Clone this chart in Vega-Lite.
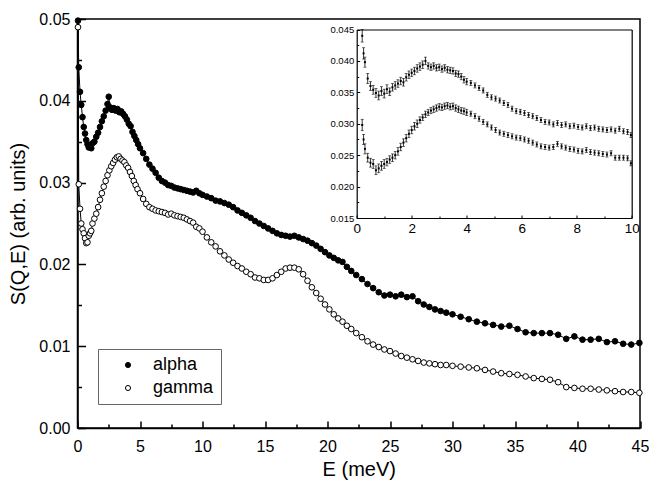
{
"$schema": "https://vega.github.io/schema/vega-lite/v6.json",
"width": 562.5,
"height": 409,
"autosize": {"type": "none"},
"padding": {"left": 77.5, "top": 19, "right": 9, "bottom": 57},
"background": "white",
"config": {
  "view": {"stroke": "black", "strokeWidth": 1.5},
  "axis": {"grid": false, "labelFlush": false, "labelOverlap": false, "domainColor": "black", "tickColor": "black", "labelColor": "black", "titleColor": "black", "labelFont": "Liberation Sans", "titleFont": "Liberation Sans", "titleFontWeight": "normal"},
  "legend": {"labelFont": "Liberation Sans"}
},
"datasets": {
  "main": [
    {"s":"alpha","E":0.04,"S":0.0498},{"s":"alpha","E":0.1,"S":0.0441},{"s":"alpha","E":0.2,"S":0.0411},{"s":"alpha","E":0.3,"S":0.0395},{"s":"alpha","E":0.4,"S":0.038},{"s":"alpha","E":0.5,"S":0.0368},{"s":"alpha","E":0.6,"S":0.036},{"s":"alpha","E":0.7,"S":0.0352},{"s":"alpha","E":0.8,"S":0.0347},{"s":"alpha","E":0.9,"S":0.0343},{"s":"alpha","E":1.0,"S":0.0345},{"s":"alpha","E":1.1,"S":0.0342},{"s":"alpha","E":1.2,"S":0.0348},{"s":"alpha","E":1.35,"S":0.035},{"s":"alpha","E":1.5,"S":0.0356},{"s":"alpha","E":1.65,"S":0.0361},{"s":"alpha","E":1.8,"S":0.0368},{"s":"alpha","E":1.95,"S":0.0375},{"s":"alpha","E":2.1,"S":0.0381},{"s":"alpha","E":2.25,"S":0.0388},{"s":"alpha","E":2.4,"S":0.0396},{"s":"alpha","E":2.5,"S":0.0405},{"s":"alpha","E":2.6,"S":0.0392},{"s":"alpha","E":2.75,"S":0.0389},{"s":"alpha","E":2.9,"S":0.0391},{"s":"alpha","E":3.05,"S":0.0388},{"s":"alpha","E":3.2,"S":0.039},{"s":"alpha","E":3.35,"S":0.0386},{"s":"alpha","E":3.5,"S":0.0387},{"s":"alpha","E":3.65,"S":0.0384},{"s":"alpha","E":3.8,"S":0.0381},{"s":"alpha","E":3.95,"S":0.0377},{"s":"alpha","E":4.1,"S":0.0372},{"s":"alpha","E":4.25,"S":0.0369},{"s":"alpha","E":4.4,"S":0.0362},{"s":"alpha","E":4.55,"S":0.0357},{"s":"alpha","E":4.7,"S":0.0352},{"s":"alpha","E":4.85,"S":0.0347},{"s":"alpha","E":5.0,"S":0.0342},{"s":"alpha","E":5.25,"S":0.0336},{"s":"alpha","E":5.5,"S":0.0329},{"s":"alpha","E":5.75,"S":0.0322},{"s":"alpha","E":6.0,"S":0.0317},{"s":"alpha","E":6.25,"S":0.0312},{"s":"alpha","E":6.5,"S":0.0306},{"s":"alpha","E":6.75,"S":0.0302},{"s":"alpha","E":7.0,"S":0.03},{"s":"alpha","E":7.25,"S":0.0297},{"s":"alpha","E":7.5,"S":0.0296},{"s":"alpha","E":7.75,"S":0.0294},{"s":"alpha","E":8.0,"S":0.0293},{"s":"alpha","E":8.25,"S":0.0292},{"s":"alpha","E":8.5,"S":0.0291},{"s":"alpha","E":8.75,"S":0.029},{"s":"alpha","E":9.0,"S":0.0289},{"s":"alpha","E":9.25,"S":0.0288},{"s":"alpha","E":9.5,"S":0.029},{"s":"alpha","E":9.75,"S":0.0287},{"s":"alpha","E":10.0,"S":0.0285},{"s":"alpha","E":10.35,"S":0.0283},{"s":"alpha","E":10.7,"S":0.0281},{"s":"alpha","E":11.05,"S":0.0278},{"s":"alpha","E":11.4,"S":0.0277},{"s":"alpha","E":11.75,"S":0.0275},{"s":"alpha","E":12.1,"S":0.0273},{"s":"alpha","E":12.45,"S":0.027},{"s":"alpha","E":12.8,"S":0.0266},{"s":"alpha","E":13.15,"S":0.0263},{"s":"alpha","E":13.5,"S":0.026},{"s":"alpha","E":13.85,"S":0.0257},{"s":"alpha","E":14.2,"S":0.0253},{"s":"alpha","E":14.55,"S":0.025},{"s":"alpha","E":14.9,"S":0.0247},{"s":"alpha","E":15.25,"S":0.0244},{"s":"alpha","E":15.6,"S":0.0241},{"s":"alpha","E":15.95,"S":0.0238},{"s":"alpha","E":16.3,"S":0.0236},{"s":"alpha","E":16.65,"S":0.0235},{"s":"alpha","E":17.0,"S":0.0234},{"s":"alpha","E":17.35,"S":0.0235},{"s":"alpha","E":17.7,"S":0.0233},{"s":"alpha","E":18.05,"S":0.0231},{"s":"alpha","E":18.4,"S":0.0229},{"s":"alpha","E":18.75,"S":0.0226},{"s":"alpha","E":19.1,"S":0.0223},{"s":"alpha","E":19.45,"S":0.0219},{"s":"alpha","E":19.8,"S":0.0215},{"s":"alpha","E":20.15,"S":0.0211},{"s":"alpha","E":20.5,"S":0.0208},{"s":"alpha","E":20.85,"S":0.0205},{"s":"alpha","E":21.2,"S":0.0203},{"s":"alpha","E":21.55,"S":0.0197},{"s":"alpha","E":21.9,"S":0.0192},{"s":"alpha","E":22.3,"S":0.0187},{"s":"alpha","E":22.75,"S":0.0182},{"s":"alpha","E":23.2,"S":0.0176},{"s":"alpha","E":23.65,"S":0.0171},{"s":"alpha","E":24.1,"S":0.0166},{"s":"alpha","E":24.55,"S":0.0162},{"s":"alpha","E":25.0,"S":0.0163},{"s":"alpha","E":25.45,"S":0.0161},{"s":"alpha","E":25.9,"S":0.0163},{"s":"alpha","E":26.35,"S":0.016},{"s":"alpha","E":26.8,"S":0.0161},{"s":"alpha","E":27.25,"S":0.0155},{"s":"alpha","E":27.7,"S":0.0151},{"s":"alpha","E":28.15,"S":0.0148},{"s":"alpha","E":28.6,"S":0.0145},{"s":"alpha","E":29.05,"S":0.0143},{"s":"alpha","E":29.5,"S":0.0141},{"s":"alpha","E":30.0,"S":0.0139},{"s":"alpha","E":30.65,"S":0.0136},{"s":"alpha","E":31.3,"S":0.0133},{"s":"alpha","E":31.95,"S":0.013},{"s":"alpha","E":32.6,"S":0.0128},{"s":"alpha","E":33.25,"S":0.0126},{"s":"alpha","E":33.9,"S":0.0124},{"s":"alpha","E":34.55,"S":0.0125},{"s":"alpha","E":35.2,"S":0.0121},{"s":"alpha","E":35.85,"S":0.0117},{"s":"alpha","E":36.5,"S":0.0116},{"s":"alpha","E":37.15,"S":0.0116},{"s":"alpha","E":37.8,"S":0.0116},{"s":"alpha","E":38.45,"S":0.0114},{"s":"alpha","E":39.1,"S":0.0109},{"s":"alpha","E":39.75,"S":0.0112},{"s":"alpha","E":40.4,"S":0.0108},{"s":"alpha","E":41.05,"S":0.0108},{"s":"alpha","E":41.7,"S":0.0109},{"s":"alpha","E":42.35,"S":0.0105},{"s":"alpha","E":43.0,"S":0.0106},{"s":"alpha","E":43.65,"S":0.0103},{"s":"alpha","E":44.3,"S":0.0102},{"s":"alpha","E":44.95,"S":0.0104},
    {"s":"gamma","E":0.04,"S":0.049},{"s":"gamma","E":0.1,"S":0.0298},{"s":"gamma","E":0.2,"S":0.0268},{"s":"gamma","E":0.3,"S":0.025},{"s":"gamma","E":0.4,"S":0.0243},{"s":"gamma","E":0.5,"S":0.0238},{"s":"gamma","E":0.6,"S":0.0232},{"s":"gamma","E":0.7,"S":0.0226},{"s":"gamma","E":0.8,"S":0.0227},{"s":"gamma","E":0.9,"S":0.0235},{"s":"gamma","E":1.0,"S":0.0238},{"s":"gamma","E":1.1,"S":0.0241},{"s":"gamma","E":1.2,"S":0.025},{"s":"gamma","E":1.35,"S":0.0256},{"s":"gamma","E":1.5,"S":0.0262},{"s":"gamma","E":1.65,"S":0.027},{"s":"gamma","E":1.8,"S":0.0279},{"s":"gamma","E":1.95,"S":0.0287},{"s":"gamma","E":2.1,"S":0.0295},{"s":"gamma","E":2.25,"S":0.0302},{"s":"gamma","E":2.4,"S":0.0309},{"s":"gamma","E":2.55,"S":0.0315},{"s":"gamma","E":2.7,"S":0.032},{"s":"gamma","E":2.85,"S":0.0324},{"s":"gamma","E":3.0,"S":0.0328},{"s":"gamma","E":3.15,"S":0.0331},{"s":"gamma","E":3.3,"S":0.0332},{"s":"gamma","E":3.45,"S":0.0329},{"s":"gamma","E":3.6,"S":0.0327},{"s":"gamma","E":3.75,"S":0.0325},{"s":"gamma","E":3.9,"S":0.0321},{"s":"gamma","E":4.05,"S":0.0318},{"s":"gamma","E":4.2,"S":0.0313},{"s":"gamma","E":4.35,"S":0.0308},{"s":"gamma","E":4.5,"S":0.0302},{"s":"gamma","E":4.65,"S":0.0297},{"s":"gamma","E":4.8,"S":0.0292},{"s":"gamma","E":5.0,"S":0.0287},{"s":"gamma","E":5.25,"S":0.028},{"s":"gamma","E":5.5,"S":0.0274},{"s":"gamma","E":5.75,"S":0.027},{"s":"gamma","E":6.0,"S":0.0268},{"s":"gamma","E":6.25,"S":0.0266},{"s":"gamma","E":6.5,"S":0.0265},{"s":"gamma","E":6.75,"S":0.0264},{"s":"gamma","E":7.0,"S":0.0263},{"s":"gamma","E":7.25,"S":0.0261},{"s":"gamma","E":7.5,"S":0.0262},{"s":"gamma","E":7.75,"S":0.026},{"s":"gamma","E":8.0,"S":0.0259},{"s":"gamma","E":8.25,"S":0.0258},{"s":"gamma","E":8.5,"S":0.0257},{"s":"gamma","E":8.75,"S":0.0255},{"s":"gamma","E":9.0,"S":0.0253},{"s":"gamma","E":9.25,"S":0.0251},{"s":"gamma","E":9.5,"S":0.0246},{"s":"gamma","E":9.75,"S":0.0244},{"s":"gamma","E":10.0,"S":0.024},{"s":"gamma","E":10.35,"S":0.0233},{"s":"gamma","E":10.7,"S":0.0227},{"s":"gamma","E":11.05,"S":0.0222},{"s":"gamma","E":11.4,"S":0.0216},{"s":"gamma","E":11.75,"S":0.0211},{"s":"gamma","E":12.1,"S":0.0206},{"s":"gamma","E":12.45,"S":0.0202},{"s":"gamma","E":12.8,"S":0.0198},{"s":"gamma","E":13.15,"S":0.0195},{"s":"gamma","E":13.5,"S":0.0191},{"s":"gamma","E":13.85,"S":0.0188},{"s":"gamma","E":14.2,"S":0.0184},{"s":"gamma","E":14.55,"S":0.0183},{"s":"gamma","E":14.9,"S":0.0181},{"s":"gamma","E":15.25,"S":0.0181},{"s":"gamma","E":15.6,"S":0.0183},{"s":"gamma","E":15.95,"S":0.0187},{"s":"gamma","E":16.3,"S":0.0191},{"s":"gamma","E":16.65,"S":0.0195},{"s":"gamma","E":17.0,"S":0.0196},{"s":"gamma","E":17.35,"S":0.0196},{"s":"gamma","E":17.7,"S":0.0194},{"s":"gamma","E":18.05,"S":0.0188},{"s":"gamma","E":18.4,"S":0.018},{"s":"gamma","E":18.75,"S":0.0172},{"s":"gamma","E":19.1,"S":0.0165},{"s":"gamma","E":19.45,"S":0.0158},{"s":"gamma","E":19.8,"S":0.0151},{"s":"gamma","E":20.15,"S":0.0145},{"s":"gamma","E":20.5,"S":0.0139},{"s":"gamma","E":20.85,"S":0.0134},{"s":"gamma","E":21.2,"S":0.013},{"s":"gamma","E":21.55,"S":0.0125},{"s":"gamma","E":21.9,"S":0.0121},{"s":"gamma","E":22.3,"S":0.0116},{"s":"gamma","E":22.75,"S":0.0111},{"s":"gamma","E":23.2,"S":0.0106},{"s":"gamma","E":23.65,"S":0.0102},{"s":"gamma","E":24.1,"S":0.0099},{"s":"gamma","E":24.55,"S":0.0096},{"s":"gamma","E":25.0,"S":0.0094},{"s":"gamma","E":25.45,"S":0.0091},{"s":"gamma","E":25.9,"S":0.0088},{"s":"gamma","E":26.35,"S":0.0086},{"s":"gamma","E":26.8,"S":0.0084},{"s":"gamma","E":27.25,"S":0.0082},{"s":"gamma","E":27.7,"S":0.008},{"s":"gamma","E":28.15,"S":0.0079},{"s":"gamma","E":28.6,"S":0.0078},{"s":"gamma","E":29.05,"S":0.0077},{"s":"gamma","E":29.5,"S":0.0077},{"s":"gamma","E":30.0,"S":0.0076},{"s":"gamma","E":30.65,"S":0.0075},{"s":"gamma","E":31.3,"S":0.0074},{"s":"gamma","E":31.95,"S":0.0073},{"s":"gamma","E":32.6,"S":0.0071},{"s":"gamma","E":33.25,"S":0.0069},{"s":"gamma","E":33.9,"S":0.0067},{"s":"gamma","E":34.55,"S":0.0066},{"s":"gamma","E":35.2,"S":0.0065},{"s":"gamma","E":35.85,"S":0.0063},{"s":"gamma","E":36.5,"S":0.0061},{"s":"gamma","E":37.15,"S":0.006},{"s":"gamma","E":37.8,"S":0.0059},{"s":"gamma","E":38.45,"S":0.0056},{"s":"gamma","E":39.1,"S":0.005},{"s":"gamma","E":39.75,"S":0.0049},{"s":"gamma","E":40.4,"S":0.0048},{"s":"gamma","E":41.05,"S":0.0048},{"s":"gamma","E":41.7,"S":0.0047},{"s":"gamma","E":42.35,"S":0.0046},{"s":"gamma","E":43.0,"S":0.0045},{"s":"gamma","E":43.65,"S":0.0044},{"s":"gamma","E":44.3,"S":0.0044},{"s":"gamma","E":44.95,"S":0.0043}
  ],
  "inset": [
    {"s":"alpha","E":0.2,"S":0.044,"lo":0.043,"hi":0.045},{"s":"alpha","E":0.25,"S":0.0412,"lo":0.0403,"hi":0.0421},{"s":"alpha","E":0.3,"S":0.0398,"lo":0.039,"hi":0.0406},{"s":"alpha","E":0.4,"S":0.0372,"lo":0.0364,"hi":0.038},{"s":"alpha","E":0.5,"S":0.036,"lo":0.0353,"hi":0.0367},{"s":"alpha","E":0.6,"S":0.0354,"lo":0.0347,"hi":0.0361},{"s":"alpha","E":0.7,"S":0.0349,"lo":0.0342,"hi":0.0356},{"s":"alpha","E":0.8,"S":0.0345,"lo":0.0338,"hi":0.0352},{"s":"alpha","E":0.9,"S":0.0352,"lo":0.0345,"hi":0.0359},{"s":"alpha","E":1.0,"S":0.0348,"lo":0.0341,"hi":0.0355},{"s":"alpha","E":1.1,"S":0.0355,"lo":0.0348,"hi":0.0362},{"s":"alpha","E":1.2,"S":0.0351,"lo":0.0345,"hi":0.0357},{"s":"alpha","E":1.3,"S":0.0358,"lo":0.0352,"hi":0.0364},{"s":"alpha","E":1.4,"S":0.0361,"lo":0.0355,"hi":0.0367},{"s":"alpha","E":1.5,"S":0.0364,"lo":0.0358,"hi":0.037},{"s":"alpha","E":1.6,"S":0.0368,"lo":0.0362,"hi":0.0374},{"s":"alpha","E":1.7,"S":0.0366,"lo":0.036,"hi":0.0372},{"s":"alpha","E":1.8,"S":0.0374,"lo":0.0368,"hi":0.038},{"s":"alpha","E":1.9,"S":0.0378,"lo":0.0372,"hi":0.0384},{"s":"alpha","E":2.0,"S":0.0381,"lo":0.0375,"hi":0.0387},{"s":"alpha","E":2.1,"S":0.0384,"lo":0.0378,"hi":0.039},{"s":"alpha","E":2.2,"S":0.0388,"lo":0.0382,"hi":0.0394},{"s":"alpha","E":2.3,"S":0.0391,"lo":0.0385,"hi":0.0397},{"s":"alpha","E":2.4,"S":0.0394,"lo":0.0388,"hi":0.04},{"s":"alpha","E":2.5,"S":0.04,"lo":0.0394,"hi":0.0406},{"s":"alpha","E":2.6,"S":0.0392,"lo":0.0387,"hi":0.0397},{"s":"alpha","E":2.7,"S":0.039,"lo":0.0385,"hi":0.0395},{"s":"alpha","E":2.8,"S":0.0392,"lo":0.0387,"hi":0.0397},{"s":"alpha","E":2.9,"S":0.0389,"lo":0.0384,"hi":0.0394},{"s":"alpha","E":3.0,"S":0.039,"lo":0.0385,"hi":0.0395},{"s":"alpha","E":3.1,"S":0.0387,"lo":0.0382,"hi":0.0392},{"s":"alpha","E":3.2,"S":0.0389,"lo":0.0384,"hi":0.0394},{"s":"alpha","E":3.3,"S":0.0386,"lo":0.0381,"hi":0.0391},{"s":"alpha","E":3.4,"S":0.0385,"lo":0.038,"hi":0.039},{"s":"alpha","E":3.5,"S":0.0384,"lo":0.0379,"hi":0.0389},{"s":"alpha","E":3.6,"S":0.038,"lo":0.0375,"hi":0.0385},{"s":"alpha","E":3.7,"S":0.0379,"lo":0.0374,"hi":0.0384},{"s":"alpha","E":3.8,"S":0.0375,"lo":0.037,"hi":0.038},{"s":"alpha","E":3.9,"S":0.037,"lo":0.0365,"hi":0.0375},{"s":"alpha","E":4.0,"S":0.0367,"lo":0.0362,"hi":0.0372},{"s":"alpha","E":4.15,"S":0.0365,"lo":0.0361,"hi":0.0369},{"s":"alpha","E":4.3,"S":0.0361,"lo":0.0357,"hi":0.0365},{"s":"alpha","E":4.45,"S":0.0357,"lo":0.0353,"hi":0.0361},{"s":"alpha","E":4.6,"S":0.0353,"lo":0.0349,"hi":0.0357},{"s":"alpha","E":4.75,"S":0.0346,"lo":0.0342,"hi":0.035},{"s":"alpha","E":4.9,"S":0.0342,"lo":0.0338,"hi":0.0346},{"s":"alpha","E":5.05,"S":0.034,"lo":0.0336,"hi":0.0344},{"s":"alpha","E":5.2,"S":0.0337,"lo":0.0333,"hi":0.0341},{"s":"alpha","E":5.35,"S":0.0333,"lo":0.0329,"hi":0.0337},{"s":"alpha","E":5.5,"S":0.033,"lo":0.0326,"hi":0.0334},{"s":"alpha","E":5.65,"S":0.0324,"lo":0.032,"hi":0.0328},{"s":"alpha","E":5.8,"S":0.032,"lo":0.0316,"hi":0.0324},{"s":"alpha","E":5.95,"S":0.0319,"lo":0.0315,"hi":0.0323},{"s":"alpha","E":6.1,"S":0.0317,"lo":0.0313,"hi":0.0321},{"s":"alpha","E":6.25,"S":0.0314,"lo":0.031,"hi":0.0318},{"s":"alpha","E":6.4,"S":0.0312,"lo":0.0308,"hi":0.0316},{"s":"alpha","E":6.55,"S":0.0309,"lo":0.0305,"hi":0.0313},{"s":"alpha","E":6.7,"S":0.0306,"lo":0.0302,"hi":0.031},{"s":"alpha","E":6.85,"S":0.0303,"lo":0.0299,"hi":0.0307},{"s":"alpha","E":7.0,"S":0.0302,"lo":0.0298,"hi":0.0306},{"s":"alpha","E":7.15,"S":0.0299,"lo":0.0295,"hi":0.0303},{"s":"alpha","E":7.3,"S":0.0301,"lo":0.0297,"hi":0.0305},{"s":"alpha","E":7.45,"S":0.0298,"lo":0.0294,"hi":0.0302},{"s":"alpha","E":7.6,"S":0.0299,"lo":0.0295,"hi":0.0303},{"s":"alpha","E":7.75,"S":0.0296,"lo":0.0292,"hi":0.03},{"s":"alpha","E":7.9,"S":0.0297,"lo":0.0293,"hi":0.0301},{"s":"alpha","E":8.05,"S":0.0295,"lo":0.0291,"hi":0.0299},{"s":"alpha","E":8.2,"S":0.0294,"lo":0.029,"hi":0.0298},{"s":"alpha","E":8.35,"S":0.0296,"lo":0.0292,"hi":0.03},{"s":"alpha","E":8.5,"S":0.0293,"lo":0.0289,"hi":0.0297},{"s":"alpha","E":8.65,"S":0.0294,"lo":0.029,"hi":0.0298},{"s":"alpha","E":8.8,"S":0.0292,"lo":0.0288,"hi":0.0296},{"s":"alpha","E":8.95,"S":0.0291,"lo":0.0287,"hi":0.0295},{"s":"alpha","E":9.1,"S":0.029,"lo":0.0286,"hi":0.0294},{"s":"alpha","E":9.25,"S":0.0291,"lo":0.0287,"hi":0.0295},{"s":"alpha","E":9.4,"S":0.0289,"lo":0.0285,"hi":0.0293},{"s":"alpha","E":9.55,"S":0.0292,"lo":0.0288,"hi":0.0296},{"s":"alpha","E":9.7,"S":0.0288,"lo":0.0284,"hi":0.0292},{"s":"alpha","E":9.85,"S":0.0287,"lo":0.0283,"hi":0.0291},{"s":"alpha","E":9.97,"S":0.0282,"lo":0.0278,"hi":0.0286},
    {"s":"gamma","E":0.2,"S":0.0298,"lo":0.0289,"hi":0.0307},{"s":"gamma","E":0.25,"S":0.0275,"lo":0.0267,"hi":0.0283},{"s":"gamma","E":0.3,"S":0.026,"lo":0.0252,"hi":0.0268},{"s":"gamma","E":0.4,"S":0.0246,"lo":0.0239,"hi":0.0253},{"s":"gamma","E":0.5,"S":0.0238,"lo":0.0231,"hi":0.0245},{"s":"gamma","E":0.6,"S":0.0236,"lo":0.0229,"hi":0.0243},{"s":"gamma","E":0.7,"S":0.0226,"lo":0.0219,"hi":0.0233},{"s":"gamma","E":0.8,"S":0.0229,"lo":0.0222,"hi":0.0236},{"s":"gamma","E":0.9,"S":0.0233,"lo":0.0226,"hi":0.024},{"s":"gamma","E":1.0,"S":0.0236,"lo":0.0229,"hi":0.0243},{"s":"gamma","E":1.1,"S":0.0239,"lo":0.0233,"hi":0.0245},{"s":"gamma","E":1.2,"S":0.0243,"lo":0.0237,"hi":0.0249},{"s":"gamma","E":1.3,"S":0.0246,"lo":0.024,"hi":0.0252},{"s":"gamma","E":1.4,"S":0.025,"lo":0.0244,"hi":0.0256},{"s":"gamma","E":1.5,"S":0.0256,"lo":0.025,"hi":0.0262},{"s":"gamma","E":1.6,"S":0.0263,"lo":0.0257,"hi":0.0269},{"s":"gamma","E":1.7,"S":0.027,"lo":0.0264,"hi":0.0276},{"s":"gamma","E":1.8,"S":0.0277,"lo":0.0271,"hi":0.0283},{"s":"gamma","E":1.9,"S":0.0284,"lo":0.0278,"hi":0.029},{"s":"gamma","E":2.0,"S":0.029,"lo":0.0284,"hi":0.0296},{"s":"gamma","E":2.1,"S":0.0296,"lo":0.029,"hi":0.0302},{"s":"gamma","E":2.2,"S":0.03,"lo":0.0294,"hi":0.0306},{"s":"gamma","E":2.3,"S":0.0306,"lo":0.0301,"hi":0.0311},{"s":"gamma","E":2.4,"S":0.031,"lo":0.0305,"hi":0.0315},{"s":"gamma","E":2.5,"S":0.0315,"lo":0.031,"hi":0.032},{"s":"gamma","E":2.6,"S":0.0318,"lo":0.0313,"hi":0.0323},{"s":"gamma","E":2.7,"S":0.0321,"lo":0.0316,"hi":0.0326},{"s":"gamma","E":2.8,"S":0.0323,"lo":0.0318,"hi":0.0328},{"s":"gamma","E":2.9,"S":0.0325,"lo":0.032,"hi":0.033},{"s":"gamma","E":3.0,"S":0.0327,"lo":0.0322,"hi":0.0332},{"s":"gamma","E":3.1,"S":0.0326,"lo":0.0321,"hi":0.0331},{"s":"gamma","E":3.2,"S":0.0328,"lo":0.0323,"hi":0.0333},{"s":"gamma","E":3.3,"S":0.0329,"lo":0.0324,"hi":0.0334},{"s":"gamma","E":3.4,"S":0.0327,"lo":0.0322,"hi":0.0332},{"s":"gamma","E":3.5,"S":0.0328,"lo":0.0323,"hi":0.0333},{"s":"gamma","E":3.6,"S":0.0325,"lo":0.032,"hi":0.033},{"s":"gamma","E":3.7,"S":0.0323,"lo":0.0318,"hi":0.0328},{"s":"gamma","E":3.8,"S":0.0321,"lo":0.0316,"hi":0.0326},{"s":"gamma","E":3.9,"S":0.032,"lo":0.0315,"hi":0.0325},{"s":"gamma","E":4.0,"S":0.0318,"lo":0.0313,"hi":0.0323},{"s":"gamma","E":4.15,"S":0.0316,"lo":0.0312,"hi":0.032},{"s":"gamma","E":4.3,"S":0.0312,"lo":0.0308,"hi":0.0316},{"s":"gamma","E":4.45,"S":0.0308,"lo":0.0304,"hi":0.0312},{"s":"gamma","E":4.6,"S":0.0303,"lo":0.0299,"hi":0.0307},{"s":"gamma","E":4.75,"S":0.0299,"lo":0.0295,"hi":0.0303},{"s":"gamma","E":4.9,"S":0.0294,"lo":0.029,"hi":0.0298},{"s":"gamma","E":5.05,"S":0.029,"lo":0.0286,"hi":0.0294},{"s":"gamma","E":5.2,"S":0.0286,"lo":0.0282,"hi":0.029},{"s":"gamma","E":5.35,"S":0.0284,"lo":0.028,"hi":0.0288},{"s":"gamma","E":5.5,"S":0.0282,"lo":0.0278,"hi":0.0286},{"s":"gamma","E":5.65,"S":0.028,"lo":0.0276,"hi":0.0284},{"s":"gamma","E":5.8,"S":0.0278,"lo":0.0274,"hi":0.0282},{"s":"gamma","E":5.95,"S":0.0277,"lo":0.0273,"hi":0.0281},{"s":"gamma","E":6.1,"S":0.0275,"lo":0.0271,"hi":0.0279},{"s":"gamma","E":6.25,"S":0.0273,"lo":0.0269,"hi":0.0277},{"s":"gamma","E":6.4,"S":0.027,"lo":0.0266,"hi":0.0274},{"s":"gamma","E":6.55,"S":0.0267,"lo":0.0263,"hi":0.0271},{"s":"gamma","E":6.7,"S":0.0264,"lo":0.026,"hi":0.0268},{"s":"gamma","E":6.85,"S":0.0263,"lo":0.0259,"hi":0.0267},{"s":"gamma","E":7.0,"S":0.0262,"lo":0.0258,"hi":0.0266},{"s":"gamma","E":7.15,"S":0.0263,"lo":0.0259,"hi":0.0267},{"s":"gamma","E":7.3,"S":0.0268,"lo":0.0264,"hi":0.0272},{"s":"gamma","E":7.45,"S":0.0264,"lo":0.026,"hi":0.0268},{"s":"gamma","E":7.6,"S":0.0262,"lo":0.0258,"hi":0.0266},{"s":"gamma","E":7.75,"S":0.026,"lo":0.0256,"hi":0.0264},{"s":"gamma","E":7.9,"S":0.0259,"lo":0.0255,"hi":0.0263},{"s":"gamma","E":8.05,"S":0.0257,"lo":0.0253,"hi":0.0261},{"s":"gamma","E":8.2,"S":0.0256,"lo":0.0252,"hi":0.026},{"s":"gamma","E":8.35,"S":0.0258,"lo":0.0254,"hi":0.0262},{"s":"gamma","E":8.5,"S":0.0255,"lo":0.0251,"hi":0.0259},{"s":"gamma","E":8.65,"S":0.0254,"lo":0.025,"hi":0.0258},{"s":"gamma","E":8.8,"S":0.0253,"lo":0.0249,"hi":0.0257},{"s":"gamma","E":8.95,"S":0.0252,"lo":0.0248,"hi":0.0256},{"s":"gamma","E":9.1,"S":0.0251,"lo":0.0247,"hi":0.0255},{"s":"gamma","E":9.25,"S":0.0253,"lo":0.0249,"hi":0.0257},{"s":"gamma","E":9.4,"S":0.0246,"lo":0.0242,"hi":0.025},{"s":"gamma","E":9.55,"S":0.0246,"lo":0.0242,"hi":0.025},{"s":"gamma","E":9.7,"S":0.0246,"lo":0.0242,"hi":0.025},{"s":"gamma","E":9.85,"S":0.0245,"lo":0.0241,"hi":0.0249},{"s":"gamma","E":9.97,"S":0.0237,"lo":0.0233,"hi":0.0241}
  ]
},
"layer": [
  {
    "data": {"name": "main"},
    "encoding": {
      "x": {"field": "E", "type": "quantitative", "scale": {"domain": [0, 45], "nice": false},
            "axis": {"values": [0,5,10,15,20,25,30,35,40,45], "tickSize": -7, "tickWidth": 1.5, "domainWidth": 1.5, "labelFontSize": 16, "labelPadding": 17, "title": "E  (meV)", "titleFontSize": 20, "titlePadding": 5}},
      "y": {"field": "S", "type": "quantitative", "scale": {"domain": [0, 0.05], "nice": false},
            "axis": {"values": [0,0.01,0.02,0.03,0.04,0.05], "format": ".2f", "tickSize": -8, "tickWidth": 1.5, "domainWidth": 1.5, "labelFontSize": 16, "labelPadding": 15.5, "title": "S(Q,E)  (arb. units)", "titleFontSize": 20, "titlePadding": 10}}
    },
    "layer": [
      {"mark": {"type": "line", "color": "black", "strokeWidth": 1}, "encoding": {"detail": {"field": "s", "type": "nominal"}}},
      {"mark": {"type": "point", "filled": true, "size": 32, "stroke": "black", "strokeWidth": 1, "opacity": 1},
       "encoding": {"fill": {"field": "s", "type": "nominal", "scale": {"domain": ["alpha", "gamma"], "range": ["black", "white"]},
         "legend": {"title": null, "orient": "none", "legendX": 20.5, "legendY": 330, "strokeColor": "#666", "padding": 7, "symbolOffset": 14, "labelOffset": 16, "labelFontSize": 18, "rowPadding": 5, "symbolSize": 26, "symbolStrokeColor": "black", "symbolStrokeWidth": 1, "symbolType": "circle", "labelColor": "black"}}}}
    ]
  },
  {
    "data": {"name": "main"},
    "mark": {"type": "point", "opacity": 0},
    "encoding": {
      "x": {"field": "E", "type": "quantitative", "scale": {"domain": [0, 45], "nice": false},
            "axis": {"values": [2.5,7.5,12.5,17.5,22.5,27.5,32.5,37.5,42.5], "orient": "bottom", "tickSize": -4, "tickWidth": 1.5, "labels": false, "domain": false, "title": null}},
      "y": {"field": "S", "type": "quantitative", "scale": {"domain": [0, 0.05], "nice": false},
            "axis": {"values": [0.005,0.015,0.025,0.035,0.045], "orient": "left", "tickSize": -4, "tickWidth": 1.5, "labels": false, "domain": false, "title": null}}
    }
  },
  {
    "data": {"name": "inset"},
    "encoding": {
      "x": {"field": "E", "type": "quantitative", "scale": {"domain": [0, 10], "nice": false, "range": [279.2, 554.2]},
            "axis": {"orient": "bottom", "offset": -210, "values": [0,2,4,6,8,10], "tickSize": -3, "tickWidth": 1, "domainWidth": 1.2, "labelFontSize": 13.5, "labelPadding": 6, "title": null}}
    },
    "layer": [
      {"mark": {"type": "rule", "color": "black", "strokeWidth": 0.8},
       "encoding": {"y": {"field": "lo", "type": "quantitative", "scale": {"domain": [0.015, 0.045], "nice": false, "range": [199, 10.5]},
            "axis": {"orient": "left", "offset": -279.2, "values": [0.015,0.02,0.025,0.03,0.035,0.04,0.045], "format": ".3f", "tickSize": -3, "tickWidth": 1, "domainWidth": 1.2, "labelFontSize": 9.5, "labelPadding": 6, "title": null}},
         "y2": {"field": "hi"}}},
      {"mark": {"type": "tick", "orient": "horizontal", "color": "black", "size": 3, "thickness": 0.8},
       "encoding": {"y": {"field": "lo", "type": "quantitative", "scale": {"domain": [0.015, 0.045], "nice": false, "range": [199, 10.5]},
            "axis": {"orient": "left", "offset": -279.2, "values": [0.015,0.02,0.025,0.03,0.035,0.04,0.045], "format": ".3f", "tickSize": -3, "tickWidth": 1, "domainWidth": 1.2, "labelFontSize": 9.5, "labelPadding": 6, "title": null}}}},
      {"mark": {"type": "tick", "orient": "horizontal", "color": "black", "size": 3, "thickness": 0.8},
       "encoding": {"y": {"field": "hi", "type": "quantitative", "scale": {"domain": [0.015, 0.045], "nice": false, "range": [199, 10.5]},
            "axis": {"orient": "left", "offset": -279.2, "values": [0.015,0.02,0.025,0.03,0.035,0.04,0.045], "format": ".3f", "tickSize": -3, "tickWidth": 1, "domainWidth": 1.2, "labelFontSize": 9.5, "labelPadding": 6, "title": null}}}},
      {"mark": {"type": "square", "filled": true, "size": 4, "color": "black", "opacity": 1},
       "encoding": {"y": {"field": "S", "type": "quantitative", "scale": {"domain": [0.015, 0.045], "nice": false, "range": [199, 10.5]},
            "axis": {"orient": "left", "offset": -279.2, "values": [0.015,0.02,0.025,0.03,0.035,0.04,0.045], "format": ".3f", "tickSize": -3, "tickWidth": 1, "domainWidth": 1.2, "labelFontSize": 9.5, "labelPadding": 6, "title": null}}}}
    ]
  },
  {
    "data": {"name": "inset"},
    "mark": {"type": "point", "opacity": 0},
    "encoding": {
      "x": {"field": "E", "type": "quantitative", "scale": {"domain": [0, 10], "nice": false, "range": [279.2, 554.2]},
            "axis": {"orient": "bottom", "offset": -210, "values": [1,3,5,7,9], "tickSize": -2, "tickWidth": 1, "labels": false, "domain": false, "title": null}},
      "y": {"field": "S", "type": "quantitative", "scale": {"domain": [0.015, 0.045], "nice": false, "range": [199, 10.5]},
            "axis": {"orient": "left", "offset": -279.2, "values": [0.0175,0.0225,0.0275,0.0325,0.0375,0.0425], "tickSize": -2, "tickWidth": 1, "labels": false, "domain": false, "title": null}}
    }
  },
  {
    "data": {"name": "inset"},
    "mark": {"type": "point", "opacity": 0},
    "encoding": {
      "x": {"field": "E", "type": "quantitative", "scale": {"domain": [0, 10], "nice": false, "range": [279.2, 554.2]},
            "axis": {"orient": "top", "offset": -10.5, "ticks": false, "labels": false, "domainWidth": 1.2, "title": null}},
      "y": {"field": "S", "type": "quantitative", "scale": {"domain": [0.015, 0.045], "nice": false, "range": [199, 10.5]},
            "axis": {"orient": "right", "offset": -8.3, "ticks": false, "labels": false, "domainWidth": 1.2, "title": null}}
    }
  }
],
"resolve": {"scale": {"x": "independent", "y": "independent"}, "axis": {"x": "independent", "y": "independent"}}
}
